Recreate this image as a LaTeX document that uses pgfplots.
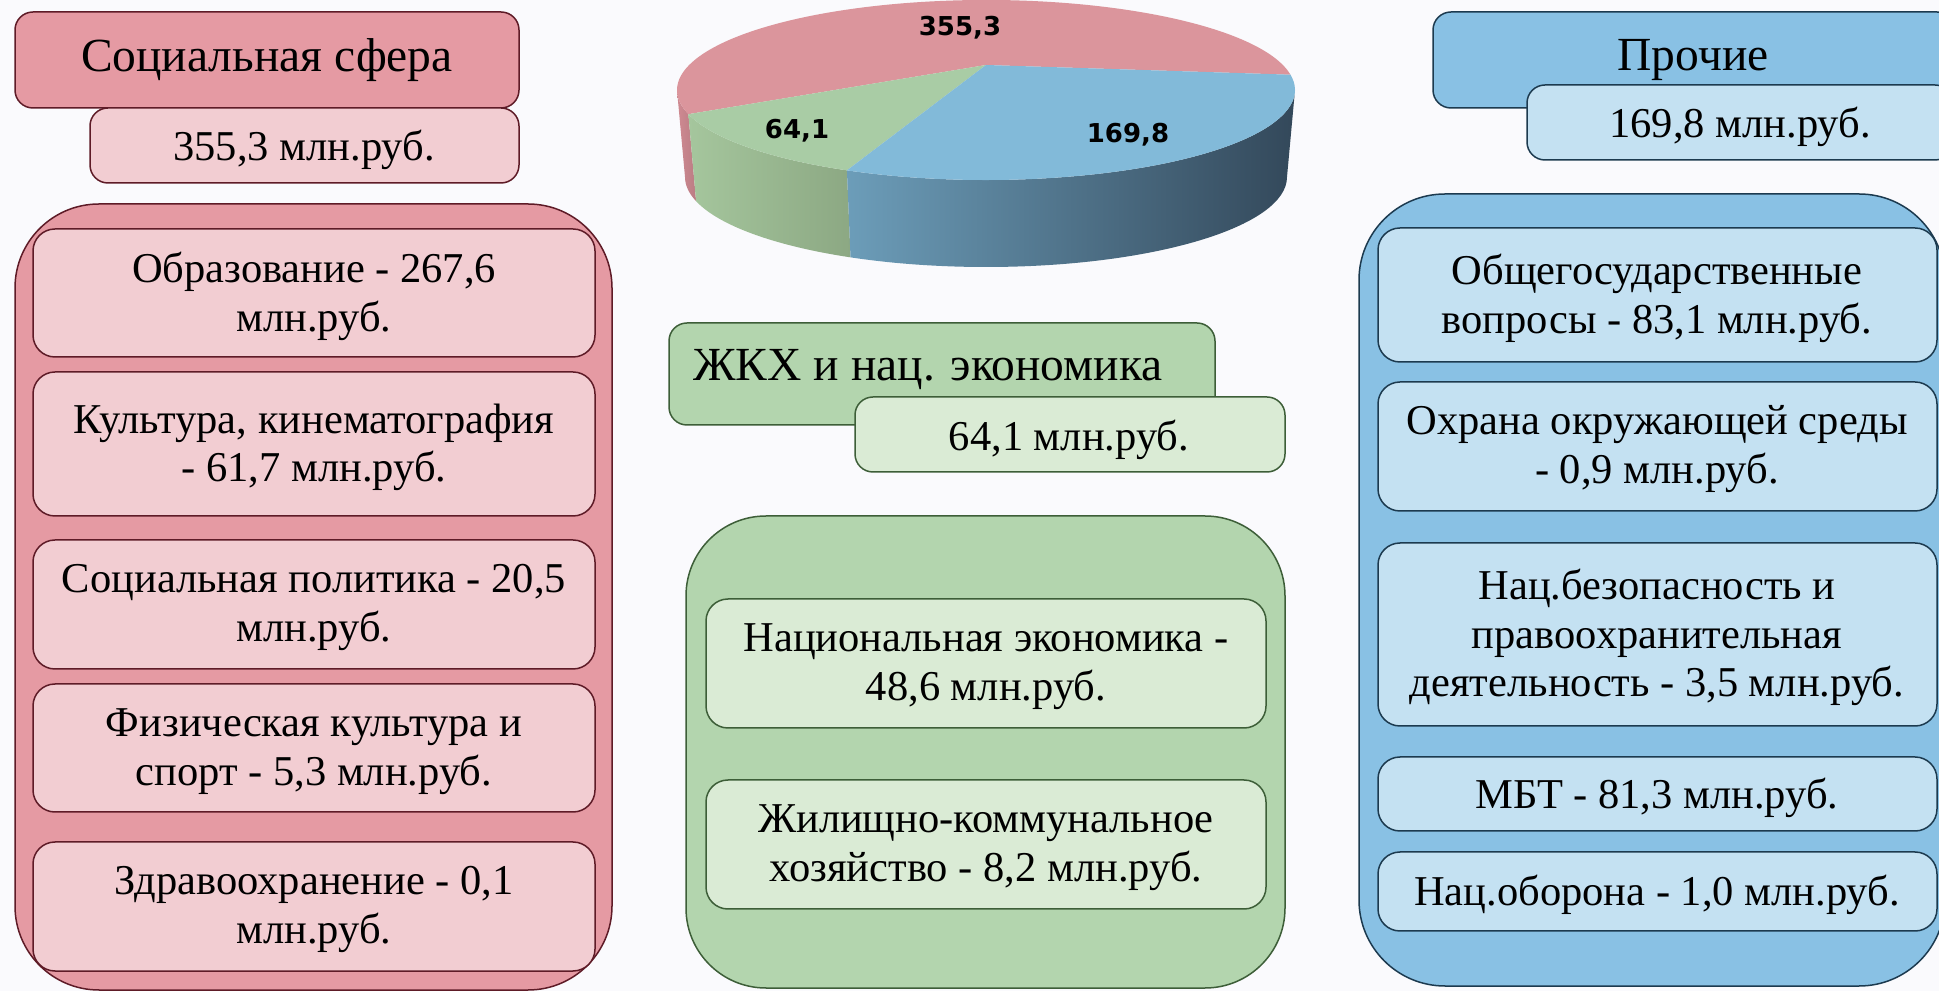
\documentclass[border=0pt]{standalone}
\usepackage{fontspec}
\setmainfont{Liberation Serif}
\newfontfamily\lblfont{DejaVu Sans}
\usepackage{pgfplots}
\pgfplotsset{compat=1.18}

\definecolor{bg}{HTML}{FAFAFD}
\definecolor{pkD}{HTML}{E59AA3}
\definecolor{pkL}{HTML}{F2CDD2}
\definecolor{pkB}{HTML}{5E1B27}
\definecolor{gnD}{HTML}{B3D5AE}
\definecolor{gnL}{HTML}{DAEBD5}
\definecolor{gnB}{HTML}{3D5E38}
\definecolor{blD}{HTML}{89C1E4}
\definecolor{blL}{HTML}{C4E1F2}
\definecolor{blB}{HTML}{1C3A4F}
\definecolor{pieP}{HTML}{DB959C}
\definecolor{pieG}{HTML}{A9CCA5}
\definecolor{pieB}{HTML}{82BAD9}
\definecolor{sideP}{HTML}{CF8A92}
\definecolor{sideGl}{HTML}{A5C69D}
\definecolor{sideGr}{HTML}{8CA883}
\definecolor{sideBl}{HTML}{6C9DB9}
\definecolor{sideBr}{HTML}{33485A}

\newcommand\bodyf{\fontsize{21.25pt}{24.4pt}\selectfont}
\newcommand\titlef{\fontsize{23.75pt}{28pt}\selectfont}
\newcommand\pief{\lblfont\bfseries\fontsize{13pt}{15pt}\selectfont}

% box: x1 y1 x2 y2 fill draw radius
\newcommand\rbox[7]{\draw[fill=#5,draw=#6,line width=0.75pt,rounded corners=#7] (#1,-#2) rectangle (#3,-#4);}

% projection of pie-plane angle #1 to ellipse parameter #2
\newcommand\pieproj[2]{%
  \pgfmathsetmacro\tmpt{1/(1+0.278*sin(#1))}%
  \pgfmathsetmacro\tmpx{297*cos(#1)*\tmpt/309}%
  \pgfmathsetmacro\tmpy{(25+83*sin(#1)*\tmpt)/90}%
  \pgfmathsetmacro#2{atan2(\tmpy,\tmpx)}%
  \pgfmathparse{#2<0?#2+360:#2}\let#2\pgfmathresult}

\begin{document}
\begin{tikzpicture}[every node/.append style={yshift=-1.2pt}]
% pie data (млн.руб.)
\pgfmathsetmacro\vS{355.3}
\pgfmathsetmacro\vG{64.1}
\pgfmathsetmacro\vP{169.8}
\pgfmathsetmacro\tot{\vS+\vG+\vP}
\pgfmathsetmacro\fP{\vP/\tot}
\pgfmathsetmacro\fG{\vG/\tot}
\pgfmathsetmacro\phA{-6.5}
\pgfmathsetmacro\phB{\phA-360*\fP}
\pgfmathsetmacro\phC{\phB-360*\fG}
\pieproj{\phA}{\psiA}
\pieproj{\phB}{\psiB}
\pieproj{\phC}{\psiC}
\pgfmathsetmacro\psiAe{\psiA+360}
\pgfmathsetmacro\xA{986+309*cos(\psiA)}\pgfmathsetmacro\yA{-90+90*sin(\psiA)}
\pgfmathsetmacro\xB{986+309*cos(\psiB)}\pgfmathsetmacro\yB{-90+90*sin(\psiB)}
\pgfmathsetmacro\xC{986+309*cos(\psiC)}\pgfmathsetmacro\yC{-90+90*sin(\psiC)}
\pgfmathsetmacro\xbB{986+301*cos(\psiB)}\pgfmathsetmacro\ybB{-177+90*sin(\psiB)}
\pgfmathsetmacro\xbC{986+301*cos(\psiC)}\pgfmathsetmacro\ybC{-177+90*sin(\psiC)}
\begin{axis}[at={(0,0)},anchor=south west,scale only axis,
  width=969.5pt,height=495.5pt,xmin=0,xmax=1939,ymin=-991,ymax=0,hide axis]
\fill[bg] (0,-991) rectangle (1939,0);

% ---- pie sides
\shade[left color=sideP,right color=sideP!90!black] (677,-90)
  arc[start angle=180,end angle=\psiC,x radius=154.5pt,y radius=45pt]
  -- (\xbC,\ybC) arc[start angle=\psiC,end angle=180,x radius=150.5pt,y radius=45pt] -- cycle;
\shade[left color=sideGl,right color=sideGr] (\xC,\yC)
  arc[start angle=\psiC,end angle=\psiB,x radius=154.5pt,y radius=45pt]
  -- (\xbB,\ybB) arc[start angle=\psiB,end angle=\psiC,x radius=150.5pt,y radius=45pt] -- cycle;
\shade[left color=sideBl,right color=sideBr] (\xB,\yB)
  arc[start angle=\psiB,end angle=360,x radius=154.5pt,y radius=45pt]
  -- (1287,-177) arc[start angle=360,end angle=\psiB,x radius=150.5pt,y radius=45pt] -- cycle;
% ---- pie top
\fill[pieP] (986,-65) -- (\xA,\yA)
  arc[start angle=\psiA,end angle=\psiC,x radius=154.5pt,y radius=45pt] -- cycle;
\fill[pieG] (986,-65) -- (\xC,\yC)
  arc[start angle=\psiC,end angle=\psiB,x radius=154.5pt,y radius=45pt] -- cycle;
\fill[pieB] (986,-65) -- (\xB,\yB)
  arc[start angle=\psiB,end angle=\psiAe,x radius=154.5pt,y radius=45pt] -- cycle;
\node[font=\pief] at (960,-25) {355,3};
\node[font=\pief] at (797,-128) {64,1};
\node[font=\pief] at (1128,-132) {169,8};

% ---- left column
\rbox{15}{12}{519}{108}{pkD}{pkB}{9pt}
\rbox{90}{108}{519}{183}{pkL}{pkB}{9pt}
\node[font=\titlef] at (267,-58) {Социальная сфера};
\node[font=\bodyf] at (304,-147) {355,3 млн.руб.};
\rbox{15}{204}{612}{990}{pkD}{pkB}{42pt}
\rbox{33}{229}{595}{357}{pkL}{pkB}{11pt}
\rbox{33}{372}{595}{516}{pkL}{pkB}{11pt}
\rbox{33}{540}{595}{669}{pkL}{pkB}{11pt}
\rbox{33}{684}{595}{812}{pkL}{pkB}{11pt}
\rbox{33}{842}{595}{971}{pkL}{pkB}{11pt}
\node[font=\bodyf,align=center] at (314,-294) {Образование - 267,6\\млн.руб.};
\node[font=\bodyf,align=center] at (314,-445) {Культура, кинематография\\- 61,7 млн.руб.};
\node[font=\bodyf,align=center] at (314,-605) {Социальная политика - 20,5\\млн.руб.};
\node[font=\bodyf,align=center] at (314,-749) {Физическая культура и\\спорт - 5,3 млн.руб.};
\node[font=\bodyf,align=center] at (314,-907) {Здравоохранение - 0,1\\млн.руб.};

% ---- centre column
\rbox{669}{323}{1215}{425}{gnD}{gnB}{9pt}
\rbox{855}{397}{1285}{472}{gnL}{gnB}{9pt}
\node[font=\titlef,anchor=west,inner sep=0pt] at (693,-367) {ЖКХ и нац. экономика};
\node[font=\bodyf] at (1069,-437) {64,1 млн.руб.};
\rbox{686}{516}{1285}{988}{gnD}{gnB}{40pt}
\rbox{706}{599}{1266}{728}{gnL}{gnB}{11pt}
\rbox{706}{780}{1266}{909}{gnL}{gnB}{11pt}
\node[font=\bodyf,align=center] at (986,-664) {Национальная экономика -\\48,6 млн.руб.};
\node[font=\bodyf,align=center] at (986,-845) {Жилищно-коммунальное\\хозяйство - 8,2 млн.руб.};

% ---- right column
\rbox{1433}{12}{1955}{108}{blD}{blB}{9pt}
\rbox{1527}{85}{1953}{160}{blL}{blB}{9pt}
\node[font=\titlef] at (1693,-58) {Прочие};
\node[font=\bodyf] at (1740,-124) {169,8 млн.руб.};
\rbox{1359}{194}{1945}{986}{blD}{blB}{43pt}
\rbox{1378}{228}{1937}{362}{blL}{blB}{11pt}
\rbox{1378}{382}{1937}{511}{blL}{blB}{11pt}
\rbox{1378}{543}{1937}{726}{blL}{blB}{11pt}
\rbox{1378}{757}{1937}{831}{blL}{blB}{11pt}
\rbox{1378}{852}{1937}{931}{blL}{blB}{11pt}
\node[font=\bodyf,align=center] at (1657,-296) {Общегосударственные\\вопросы - 83,1 млн.руб.};
\node[font=\bodyf,align=center] at (1657,-447) {Охрана окружающей среды\\- 0,9 млн.руб.};
\node[font=\bodyf,align=center] at (1657,-635) {Нац.безопасность и\\правоохранительная\\деятельность - 3,5 млн.руб.};
\node[font=\bodyf,align=center] at (1657,-795) {МБТ - 81,3 млн.руб.};
\node[font=\bodyf,align=center] at (1657,-892) {Нац.оборона - 1,0 млн.руб.};
\end{axis}
\pgfresetboundingbox
\useasboundingbox (0,0) rectangle (969.5pt,495.5pt);
\end{tikzpicture}
\end{document}
